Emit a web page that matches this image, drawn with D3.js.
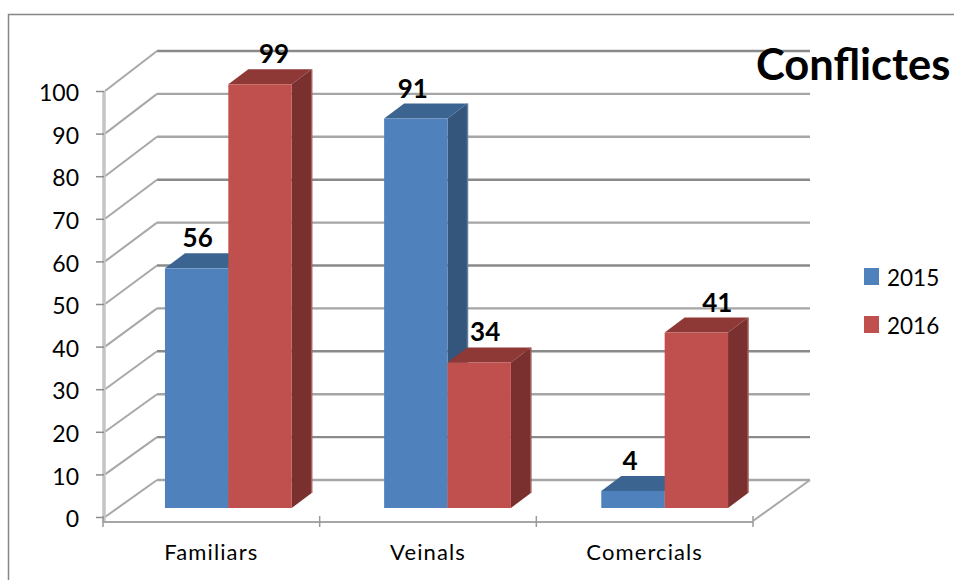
<!DOCTYPE html>
<html>
<head>
<meta charset="utf-8">
<script src="https://cdn.jsdelivr.net/npm/d3@7/dist/d3.min.js"></script>
<style>
html,body{margin:0;padding:0;background:#fff;overflow:hidden}
svg{display:block}
text{font-family:Lato,"Open Sans",sans-serif;fill:#000}
</style>
</head>
<body>
<svg id="c" width="954" height="580"></svg>
<script>
const categories = ["Familiars", "Veinals", "Comercials"];
const seriesNames = ["2015", "2016"];
const values2015 = [56, 91, 4];
const values2016 = [99, 34, 41];
const yTicks = [0,10,20,30,40,50,60,70,80,90,100];
const darkGridTicks = [100,70,50,30,10];
const titleText = "Conflictes";
const seriesColors = {
  "2015": {front:"#4f81bd", top:"#3c6490", side:"#34557c", edge:"#5f7f9f"},
  "2016": {front:"#c0504d", top:"#8f3937", side:"#7a302e", edge:"#a56361"}
};
const labelNudge = {"2015":[1,-3,-3], "2016":[14,6,21]};
const barShifts = [17, 19.5, 20];

const svg = d3.select("#c");
// chart frame
svg.append("path").attr("d","M954,14.5H8.5V580").attr("fill","none").attr("stroke","#868686").attr("stroke-width",1.5);

const yFront = d3.scaleLinear().domain([0,100]).range([517,91]);
const yBack  = d3.scaleLinear().domain([0,100]).range([480,51]);
const yBar   = d3.scaleLinear().domain([0,100]).range([508,80]);
const x0 = d3.scaleBand().domain(categories).range([103,753]).paddingInner(0.415).paddingOuter(0.2075);
const x1 = d3.scaleBand().domain(seriesNames).range([0,x0.bandwidth()]);
const wallDx = 54, floorEndX = 810, barDx = 20, barDy = 15;

// back wall gridlines
const gridShade = d => darkGridTicks.includes(d) ? "#8a8a8a" : "#a6a6a6";
svg.append("g").selectAll("line").data(yTicks).join("line")
  .attr("x1",103+wallDx).attr("x2",floorEndX)
  .attr("y1",d=>yBack(d)).attr("y2",d=>yBack(d))
  .attr("stroke",gridShade).attr("stroke-width",2.4);
// side wall lines
svg.append("g").selectAll("line").data(yTicks).join("line")
  .attr("x1",105).attr("x2",103+wallDx)
  .attr("y1",d=>yFront(d)).attr("y2",d=>yBack(d))
  .attr("stroke","#a8a8a8").attr("stroke-width",2);

// y axis
const yAxis = d3.axisLeft(yFront).tickValues(yTicks).tickSize(8).tickPadding(6);
const gy = svg.append("g").attr("transform","translate(104,0)").call(yAxis);
gy.select(".domain").attr("d","M0,91V522").attr("stroke","#c4c4c4").attr("stroke-width",3.5).attr("fill","none");
gy.selectAll(".tick line").attr("stroke","#8c8c8c").attr("stroke-width",1.5);
gy.selectAll("text").attr("font-size",23).attr("dx",-11).attr("dy","0.42em");

// x axis
const xAxis = d3.axisBottom(x0).tickSize(0).tickPadding(22);
const gx = svg.append("g").attr("transform","translate(0,522)").call(xAxis);
gx.select(".domain").attr("d","M103,0H753").attr("stroke","#a6a6a6").attr("stroke-width",2).attr("fill","none");
gx.selectAll("text").attr("font-size",22).attr("letter-spacing",1.1).attr("dy","0.71em");
const xStep = x0.step();
svg.append("g").selectAll("line").data(d3.range(4)).join("line")
  .attr("x1",i=>103+i*xStep).attr("x2",i=>103+i*xStep).attr("y1",516).attr("y2",527)
  .attr("stroke","#9a9a9a").attr("stroke-width",1.5);
// floor right edge
svg.append("line").attr("x1",753).attr("y1",521).attr("x2",floorEndX).attr("y2",yBack(0))
  .attr("stroke","#a8a8a8").attr("stroke-width",2);

// bars
const bars = [];
seriesNames.forEach((s,si)=>{
  const vals = si===0 ? values2015 : values2016;
  categories.forEach((c,ci)=>bars.push({s,c,ci,v:vals[ci]}));
});
const barLeft = b => x0(b.c)+barShifts[b.ci]+x1(b.s);
const barG = svg.append("g");
bars.forEach(b=>{
  const l = barLeft(b), r = l+x1.bandwidth(), t = yBar(b.v), bt = yBar(0);
  const col = seriesColors[b.s];
  const g = barG.append("g");
  g.append("polygon").attr("fill",col.top)
    .attr("points",[[l,t],[l+barDx,t-barDy],[r+barDx,t-barDy],[r,t]].join(" "));
  g.append("polygon").attr("fill",col.side)
    .attr("points",[[r,t],[r+barDx,t-barDy],[r+barDx,bt-barDy],[r,bt]].join(" "));
  g.append("line").attr("x1",r+barDx).attr("x2",r+barDx).attr("y1",t-barDy).attr("y2",bt-barDy)
    .attr("stroke",col.edge).attr("stroke-width",1.5);
  g.append("rect").attr("x",l).attr("y",t).attr("width",r-l).attr("height",bt-t).attr("fill",col.front);
});
// data labels
svg.append("g").selectAll("text").data(bars).join("text")
  .attr("x",b=>barLeft(b)+x1.bandwidth()/2+labelNudge[b.s][b.ci])
  .attr("y",b=>yBar(b.v)-barDy-6)
  .attr("text-anchor","middle").attr("font-size",26).attr("font-weight",700)
  .text(b=>b.v);

// title
svg.append("text").attr("x",756).attr("y",80).attr("font-size",43.5).attr("font-weight",700).text(titleText);

// legend
const lg = svg.append("g").selectAll("g").data(seriesNames).join("g")
  .attr("transform",(d,i)=>`translate(864,${268+i*48})`);
lg.append("rect").attr("width",15).attr("height",17).attr("fill",d=>seriesColors[d].front);
lg.append("text").attr("x",23).attr("y",18).attr("font-size",22.5).text(d=>d);
</script>
</body>
</html>
